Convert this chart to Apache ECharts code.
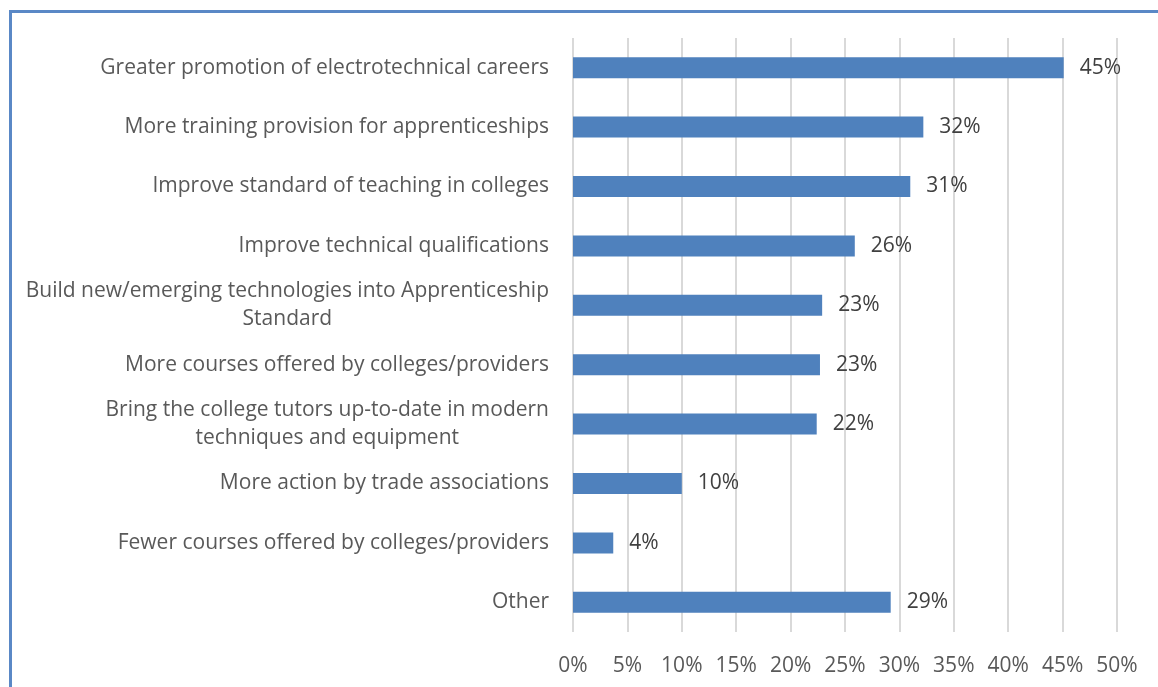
<!DOCTYPE html>
<html>
<head>
<meta charset="utf-8">
<script src="https://cdn.jsdelivr.net/npm/echarts@6/dist/echarts.min.js"></script>
<style>
html,body{margin:0;padding:0;background:#fff;}
#chart{width:1158px;height:687px;}
</style>
</head>
<body>
<div id="chart"></div>
<script>
const categories = [
  "Greater promotion of electrotechnical careers",
  "More training provision for apprenticeships",
  "Improve standard of teaching in colleges",
  "Improve technical qualifications",
  "Build new/emerging technologies into Apprenticeship\nStandard",
  "More courses offered by colleges/providers",
  "Bring the college tutors up-to-date in modern\ntechniques and equipment",
  "More action by trade associations",
  "Fewer courses offered by colleges/providers",
  "Other"
];
const values = [45.1, 32.2, 31.0, 25.9, 22.9, 22.7, 22.4, 10.0, 3.7, 29.2];
const labels = ["45%", "32%", "31%", "26%", "23%", "23%", "22%", "10%", "4%", "29%"];
const xTicks = ["0%","5%","10%","15%","20%","25%","30%","35%","40%","45%","50%"];

const FONT = "Open Sans";
const FS = 21;
const chart = echarts.init(document.getElementById('chart'));
chart.setOption({
  animation: false,
  backgroundColor: '#ffffff',
  graphic: [{
    type: 'rect',
    left: 8, top: 9,
    shape: { x: 0, y: 0, width: 1200, height: 750 },
    style: { fill: 'none', stroke: '#5A88C6', lineWidth: 3 },
    silent: true
  }],
  grid: { left: 573, right: 41, top: 38, bottom: 55 },
  xAxis: {
    type: 'value',
    min: 0, max: 50, interval: 5,
    axisLine: { show: false },
    axisTick: { show: false },
    splitLine: { show: true, lineStyle: { color: '#d9d9d9', width: 2 } },
    axisLabel: {
      margin: 24,
      color: '#595959',
      fontFamily: FONT,
      fontSize: FS,
      formatter: function (v) { return xTicks[Math.round(v / 5)]; }
    }
  },
  yAxis: {
    type: 'category',
    inverse: true,
    data: categories,
    axisLine: { show: false },
    axisTick: { show: false },
    axisLabel: {
      margin: 24,
      color: '#595959',
      fontFamily: FONT,
      fontSize: FS,
      lineHeight: 28,
      formatter: function (v) {
        return v.split('\n').map(function (l) { return '{c|' + l + '}'; }).join('\n');
      },
      rich: {
        c: { align: 'center', color: '#595959', fontFamily: FONT, fontSize: FS, lineHeight: 28 }
      }
    }
  },
  series: [{
    type: 'bar',
    data: values,
    barWidth: 21,
    itemStyle: { color: '#4F81BD' },
    label: {
      show: true,
      position: 'right',
      distance: 16,
      color: '#404040',
      fontFamily: FONT,
      fontSize: FS,
      formatter: function (p) { return labels[p.dataIndex]; }
    }
  }]
});
</script>
</body>
</html>
